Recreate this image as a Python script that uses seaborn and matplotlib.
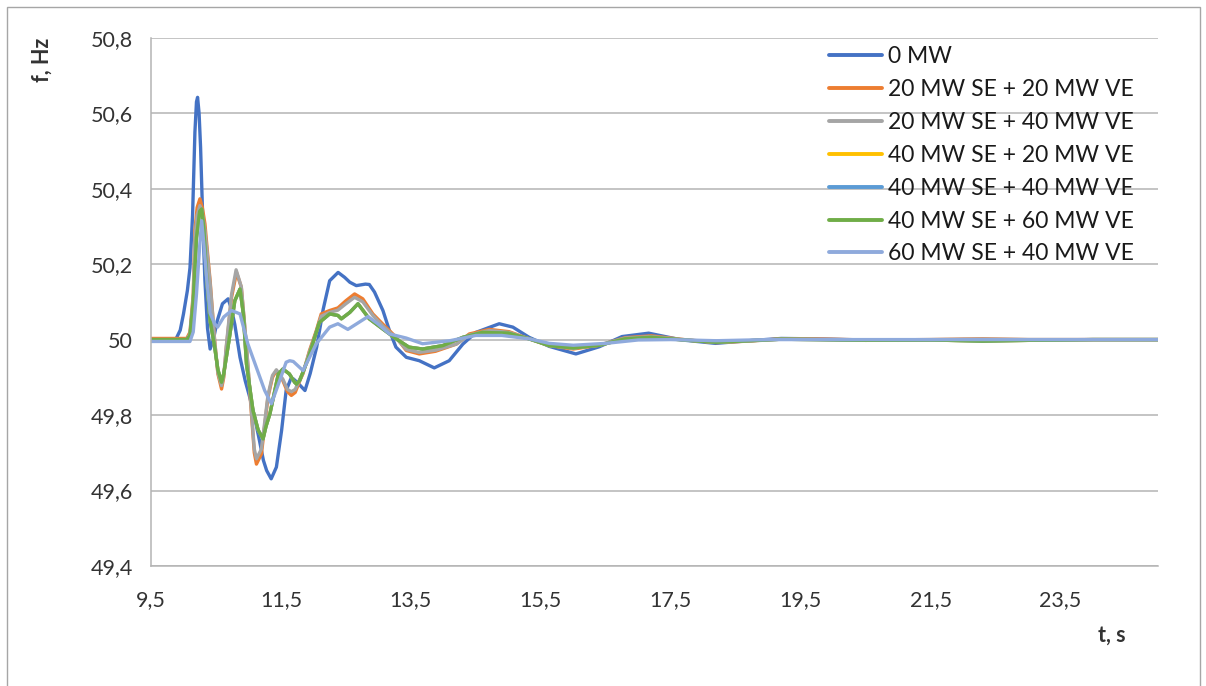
import matplotlib
matplotlib.use("Agg")
import matplotlib.pyplot as plt
from matplotlib.patches import Rectangle
import seaborn as sns
import pandas as pd

# ---- data: frequency response f(t) for each scenario ----
t_0mw = [9.5, 9.88, 9.95, 10.0, 10.06, 10.1, 10.14, 10.176, 10.2, 10.217, 10.24, 10.263, 10.3, 10.33,
         10.37, 10.41, 10.46, 10.52, 10.6, 10.687, 10.74, 10.79, 10.87, 10.95, 11.02, 11.1, 11.17, 11.23,
         11.28, 11.35, 11.43, 11.51, 11.58, 11.65, 11.69, 11.76, 11.87, 11.95, 12.05, 12.15, 12.25, 12.38,
         12.48, 12.56, 12.66, 12.8, 12.86, 12.94, 13.07, 13.17, 13.27, 13.43, 13.63, 13.86, 14.09, 14.3,
         14.5, 14.86, 15.07, 15.32, 15.63, 16.04, 16.4, 16.75, 17.16, 17.67, 18.19, 18.7, 19.2, 19.7,
         20.2, 21.0, 22.0, 23.0, 24.0, 25.0]
f_0mw = [50.0, 50.0, 50.025, 50.068, 50.13, 50.19, 50.33, 50.55, 50.63, 50.642, 50.60, 50.51, 50.3, 50.156,
         50.03, 49.975, 50.0, 50.05, 50.095, 50.108, 50.08, 50.04, 49.953, 49.891, 49.847, 49.79, 49.732, 49.68,
         49.653, 49.631, 49.662, 49.759, 49.865, 49.895, 49.896, 49.885, 49.865, 49.91, 49.98, 50.08, 50.156, 50.178,
         50.165, 50.152, 50.143, 50.147, 50.146, 50.126, 50.077, 50.024, 49.98, 49.953, 49.944, 49.925, 49.944, 49.988,
         50.019, 50.042, 50.033, 50.006, 49.982, 49.962, 49.981, 50.008, 50.017, 49.999, 49.99, 49.997, 50.003, 50.002,
         50.0, 49.998, 50.0, 49.999, 50.0, 50.0]

t_se20_ve20 = [9.5, 10.05, 10.1, 10.15, 10.176, 10.21, 10.253, 10.29, 10.33, 10.37, 10.41, 10.48, 10.53, 10.586,
               10.62, 10.66, 10.74, 10.816, 10.89, 10.97, 11.046, 11.09, 11.123, 11.2, 11.3, 11.37, 11.43, 11.53,
               11.6, 11.66, 11.72, 11.79, 11.84, 11.94, 12.045, 12.12, 12.25, 12.377, 12.5, 12.634, 12.76, 12.915,
               13.068, 13.274, 13.43, 13.63, 13.88, 14.2, 14.4, 14.707, 15.01, 15.32, 15.63, 16.0, 16.4, 16.8,
               17.2, 17.7, 18.2, 18.7, 19.2, 19.7, 20.5, 21.5, 22.3, 23.0, 24.0, 25.0]
f_se20_ve20 = [50.003, 50.003, 50.02, 50.12, 50.289, 50.35, 50.373, 50.35, 50.307, 50.23, 50.156, 49.997, 49.909, 49.869,
               49.9, 49.98, 50.112, 50.178, 50.139, 49.98, 49.803, 49.70, 49.67, 49.697, 49.847, 49.9, 49.918, 49.891,
               49.862, 49.852, 49.86, 49.891, 49.91, 49.971, 50.024, 50.068, 50.077, 50.084, 50.103, 50.121, 50.108, 50.068,
               50.041, 50.006, 49.971, 49.962, 49.969, 49.988, 50.015, 50.027, 50.021, 50.002, 49.984, 49.975, 49.985, 50.005,
               50.01, 50.0, 49.992, 49.996, 50.002, 50.002, 49.999, 50.0, 50.002, 50.0, 50.0, 50.0]

t_se20_ve40 = [9.5, 10.05, 10.1, 10.15, 10.176, 10.21, 10.253, 10.29, 10.33, 10.37, 10.41, 10.48, 10.53, 10.586,
               10.62, 10.66, 10.74, 10.81, 10.89, 10.97, 11.046, 11.09, 11.123, 11.2, 11.3, 11.37, 11.43, 11.53,
               11.6, 11.66, 11.72, 11.79, 11.84, 11.94, 12.045, 12.12, 12.25, 12.377, 12.5, 12.634, 12.76, 12.915,
               13.068, 13.274, 13.43, 13.63, 13.88, 14.2, 14.4, 14.707, 15.01, 15.32, 15.63, 16.0, 16.4, 16.8,
               17.2, 17.7, 18.2, 18.7, 19.2, 19.7, 20.5, 21.5, 22.3, 23.0, 24.0, 25.0]
f_se20_ve40 = [50.0, 50.0, 50.015, 50.11, 50.27, 50.33, 50.355, 50.335, 50.29, 50.22, 50.15, 49.995, 49.912, 49.878,
               49.905, 49.985, 50.12, 50.185, 50.14, 49.982, 49.81, 49.71, 49.684, 49.71, 49.852, 49.905, 49.92, 49.895,
               49.868, 49.862, 49.868, 49.895, 49.912, 49.968, 50.02, 50.062, 50.072, 50.078, 50.095, 50.112, 50.1, 50.064,
               50.036, 50.004, 49.974, 49.966, 49.972, 49.988, 50.012, 50.024, 50.019, 50.002, 49.985, 49.977, 49.986, 50.004,
               50.008, 50.0, 49.993, 49.996, 50.001, 50.001, 49.999, 50.0, 50.001, 50.0, 50.0, 50.0]

t_se40_ve60 = [9.5, 10.05, 10.1, 10.15, 10.2, 10.25, 10.28, 10.31, 10.36, 10.41, 10.48, 10.53, 10.586, 10.62,
               10.7, 10.79, 10.87, 10.92, 10.97, 11.07, 11.15, 11.225, 11.27, 11.33, 11.46, 11.53, 11.63, 11.71,
               11.74, 11.79, 11.92, 12.09, 12.25, 12.377, 12.43, 12.56, 12.686, 12.86, 13.068, 13.274, 13.47, 13.68,
               13.99, 14.3, 14.6, 15.0, 15.32, 15.63, 16.0, 16.4, 16.8, 17.2, 17.7, 18.2, 18.7, 19.2,
               19.7, 20.5, 21.5, 22.3, 23.0, 24.0, 25.0]
f_se40_ve60 = [50.0, 50.0, 50.01, 50.1, 50.27, 50.34, 50.346, 50.3, 50.156, 50.05, 49.98, 49.92, 49.887, 49.91,
               49.997, 50.103, 50.134, 50.07, 49.935, 49.812, 49.76, 49.737, 49.77, 49.803, 49.909, 49.922, 49.909, 49.887,
               49.882, 49.892, 49.95, 50.045, 50.068, 50.064, 50.055, 50.072, 50.095, 50.055, 50.028, 50.002, 49.98, 49.975,
               49.984, 50.006, 50.019, 50.017, 50.002, 49.984, 49.978, 49.985, 50.002, 50.006, 49.999, 49.993, 49.997, 50.001,
               50.0, 49.998, 49.999, 49.996, 49.998, 50.0, 50.0]

# scenarios that run underneath the 40 MW SE + 60 MW VE curve
t_se40_ve20 = list(t_se40_ve60)
f_se40_ve20 = [50.0, 50.0, 50.01, 50.1, 50.27, 50.34, 50.346, 50.3, 50.156, 50.05, 49.98, 49.92, 49.887, 49.91,
               49.997, 50.103, 50.134, 50.07, 49.935, 49.812, 49.76, 49.737, 49.77, 49.803, 49.909, 49.922, 49.909, 49.887,
               49.882, 49.892, 49.95, 50.045, 50.068, 50.064, 50.055, 50.072, 50.095, 50.055, 50.028, 50.002, 49.98, 49.975,
               49.984, 50.006, 50.019, 50.017, 50.002, 49.984, 49.978, 49.985, 50.002, 50.006, 49.999, 49.993, 49.997, 50.001,
               50.0, 49.998, 49.999, 49.996, 49.998, 50.0, 50.0]
t_se40_ve40 = list(t_se40_ve60)
f_se40_ve40 = list(f_se40_ve20)

t_se60_ve40 = [9.5, 10.1, 10.15, 10.2, 10.25, 10.28, 10.31, 10.36, 10.41, 10.48, 10.525, 10.62, 10.74, 10.87,
               10.99, 11.12, 11.25, 11.353, 11.48, 11.58, 11.634, 11.69, 11.84, 12.045, 12.25, 12.377, 12.53, 12.84,
               12.99, 13.17, 13.43, 13.68, 14.1, 14.5, 14.9, 15.32, 15.63, 16.0, 16.5, 17.0, 17.5, 18.2,
               19.0, 20.0, 21.0, 22.0, 23.0, 24.0, 25.0]
f_se60_ve40 = [49.995, 49.995, 50.02, 50.12, 50.25, 50.315, 50.26, 50.156, 50.07, 50.042, 50.033, 50.06, 50.077, 50.068,
               49.989, 49.927, 49.865, 49.83, 49.891, 49.94, 49.944, 49.942, 49.918, 49.989, 50.033, 50.042, 50.027, 50.061,
               50.042, 50.015, 50.004, 49.989, 49.997, 50.011, 50.011, 50.002, 49.99, 49.985, 49.99, 49.999, 50.0, 49.997,
               50.0, 50.0, 50.0, 50.0, 50.0, 50.0, 50.0]

series_labels = ["0 MW", "20 MW SE + 20 MW VE", "20 MW SE + 40 MW VE", "40 MW SE + 20 MW VE",
                 "40 MW SE + 40 MW VE", "40 MW SE + 60 MW VE", "60 MW SE + 40 MW VE"]
series_colors = ["#4472C4", "#ED7D31", "#A5A5A5", "#FFC000", "#5B9BD5", "#70AD47", "#8FAADC"]

y_ticks = [49.4, 49.6, 49.8, 50.0, 50.2, 50.4, 50.6, 50.8]
y_ticklabels = ["49,4", "49,6", "49,8", "50", "50,2", "50,4", "50,6", "50,8"]
x_ticks = [9.5, 11.5, 13.5, 15.5, 17.5, 19.5, 21.5, 23.5]
x_ticklabels = ["9,5", "11,5", "13,5", "15,5", "17,5", "19,5", "21,5", "23,5"]

series_t = [t_0mw, t_se20_ve20, t_se20_ve40, t_se40_ve20, t_se40_ve40, t_se40_ve60, t_se60_ve40]
series_f = [f_0mw, f_se20_ve20, f_se20_ve40, f_se40_ve20, f_se40_ve40, f_se40_ve60, f_se60_ve40]

# ---- style ----
sns.set_style("white")
plt.rcParams["font.family"] = ["Lato", "DejaVu Sans"]
TEXT = "#333333"
GRID = "#B4B4B4"

W, H = 1206, 686
fig = plt.figure(figsize=(W / 100, H / 100), dpi=100)
ax = fig.add_axes([151 / W, 1 - 566 / H, (1158 - 151) / W, (566 - 37.7) / H])

for t, f, lab, col in zip(series_t, series_f, series_labels, series_colors):
    df = pd.DataFrame({"t": t, "f": f})
    sns.lineplot(data=df, x="t", y="f", ax=ax, color=col, lw=2.4, label=lab,
                 sort=False, estimator=None, solid_joinstyle="round", solid_capstyle="round")

ax.set_xlim(9.5, 25.0)
ax.set_ylim(49.4, 50.8)
ax.set_xticks(x_ticks)
ax.set_xticklabels(x_ticklabels)
ax.set_yticks(y_ticks)
ax.set_yticklabels(y_ticklabels)
ax.set_xlabel("")
ax.set_ylabel("")

ax.yaxis.grid(True, color=GRID, lw=1.1)
ax.xaxis.grid(False)
ax.set_axisbelow(True)
for s in ["top", "right"]:
    ax.spines[s].set_visible(False)
for s in ["left", "bottom"]:
    ax.spines[s].set_color(GRID)
    ax.spines[s].set_linewidth(1.1)
ax.tick_params(axis="both", which="major", length=5, width=1.1, color=GRID,
               labelsize=15.5, labelcolor=TEXT, direction="out")
ax.tick_params(axis="y", pad=8)
ax.tick_params(axis="x", pad=12)

fig.text(42 / W, 1 - 60 / H, "f, Hz", rotation=90, ha="center", va="center",
         fontsize=15.5, fontweight="bold", color=TEXT)
fig.text(1112 / W, 1 - 635 / H, "t, s", ha="center", va="center",
         fontsize=15.5, fontweight="bold", color=TEXT)

leg = ax.legend(loc="upper left", bbox_to_anchor=(829 / W, 1 - 46 / H), bbox_transform=fig.transFigure,
                frameon=False, fontsize=16.5, handlelength=2.3, handletextpad=0.26,
                labelspacing=0.52, borderpad=0, borderaxespad=0)
for txt in leg.get_texts():
    txt.set_color("#1a1a1a")
for ln in leg.get_lines():
    ln.set_linewidth(2.8)

# chart-area frame
fig.patches.append(Rectangle((6.5 / W, -0.02), (1199.5 - 6.5) / W, 1.02 - 6.5 / H,
                             transform=fig.transFigure, fill=False, edgecolor="#A6A6A6", lw=1.0))

fig.savefig("out.png", dpi=100)
